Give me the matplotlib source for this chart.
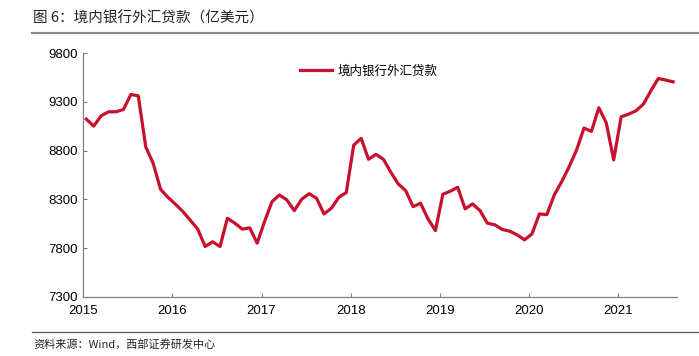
import numpy as np
import matplotlib
matplotlib.use('Agg')
import matplotlib.pyplot as plt
from matplotlib.lines import Line2D

plt.rcParams['font.family'] = ['Liberation Sans', 'Noto Sans CJK SC', 'DejaVu Sans']

# 境内银行外汇贷款 (亿美元), monthly from 2015-01 to 2021-08
loans = [9124, 9052, 9158, 9199, 9199, 9223, 9377, 9363, 8840, 8670, 8403, 8320,
         8250, 8175, 8085, 7995, 7815, 7864, 7815, 8106, 8055, 7994, 8007, 7850,
         8072, 8276, 8345, 8294, 8184, 8301, 8358, 8311, 8150, 8209, 8321, 8369,
         8857, 8926, 8711, 8762, 8711, 8578, 8458, 8389, 8225, 8260, 8099, 7979,
         8352, 8383, 8424, 8202, 8253, 8184, 8055, 8038, 7990, 7973, 7935, 7884,
         7945, 8150, 8143, 8345, 8481, 8635, 8806, 9032, 8998, 9240, 9086, 8704,
         9147, 9175, 9209, 9278, 9414, 9541, 9525, 9507]
start_year = 2015
years = [2015, 2016, 2017, 2018, 2019, 2020, 2021]
yticks = [7300, 7800, 8300, 8800, 9300, 9800]

x = start_year + (np.arange(len(loans)) + 0.4) / 12

fig = plt.figure(figsize=(6.99, 3.56), dpi=100)
ax = fig.add_axes([0.1192, 0.1666, 0.8493, 0.6837])

ax.plot(x, loans, color='#C8102E', lw=2.3, label='境内银行外汇贷款')

ax.set_xlim(2015, 2021.66)
ax.set_ylim(7300, 9800)
ax.set_xticks(years)
ax.set_xticklabels([str(y) for y in years])
ax.set_yticks(yticks)
ax.tick_params(direction='in', length=3, width=0.8, color='#808080',
               labelsize=9.5, labelcolor='black')
ax.tick_params(axis='x', pad=6)
ax.tick_params(axis='y', pad=4)
for s in ['top', 'right']:
    ax.spines[s].set_visible(False)
for s in ['left', 'bottom']:
    ax.spines[s].set_color('#808080')
    ax.spines[s].set_linewidth(0.9)

leg = ax.legend(loc='upper left', bbox_to_anchor=(0.346, 1.0), frameon=False,
                handlelength=2.6, handletextpad=0.4,
                prop={'family': ['Noto Sans CJK SC'], 'size': 9})

# title and source
fig.text(33 / 699, 1 - 18 / 356, '图 6：境内银行外汇贷款（亿美元）', ha='left', va='center',
         fontsize=10.5, family=['Noto Sans CJK SC'], color='#222222')
fig.add_artist(Line2D([32 / 699, 1.0], [1 - 33 / 356, 1 - 33 / 356],
                      color='#8c8c8c', lw=1.6, transform=fig.transFigure))
fig.add_artist(Line2D([32 / 699, 1.0], [1 - 332 / 356, 1 - 332 / 356],
                      color='#555555', lw=0.9, transform=fig.transFigure))
fig.text(33 / 699, 1 - 344 / 356, '资料来源：Wind，西部证券研发中心', ha='left', va='center',
         fontsize=8, family=['Noto Sans CJK SC'], color='#222222')

fig.savefig('out.png', dpi=100)
